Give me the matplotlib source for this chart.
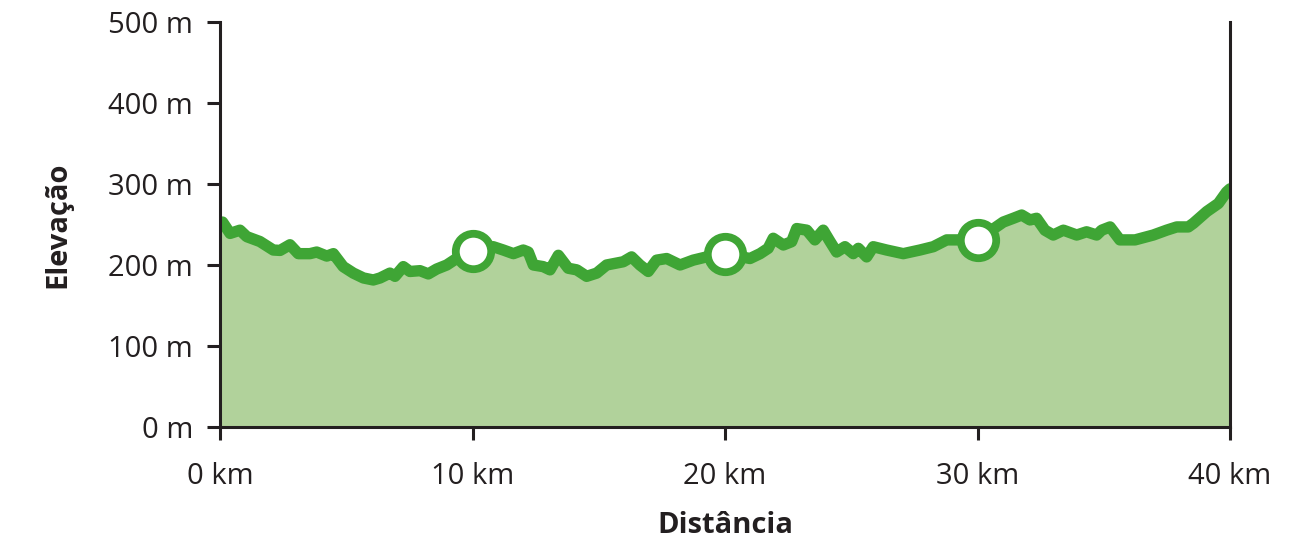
import numpy as np
import matplotlib
matplotlib.use('Agg')
import matplotlib.pyplot as plt

plt.rcParams['font.family'] = ['Open Sans', 'DejaVu Sans']

# perfil de elevação (km, m)
dist_km = [0.0, 0.1, 0.40, 0.79, 1.06, 1.58, 2.11, 2.38, 2.77, 3.10, 3.56, 3.83,
           4.23, 4.49, 4.88, 5.28, 5.68, 6.07, 6.34, 6.73, 6.93, 7.26, 7.52, 7.92,
           8.25, 8.58, 8.98, 9.37, 10.0, 10.82, 11.22, 11.62, 12.01, 12.21, 12.41,
           12.80, 13.07, 13.40, 13.79, 14.13, 14.52, 14.92, 15.31, 15.97, 16.30,
           16.63, 16.96, 17.29, 17.69, 18.22, 18.74, 19.27, 20.0, 20.99, 21.39,
           21.71, 21.91, 22.31, 22.64, 22.84, 23.24, 23.56, 23.89, 24.16, 24.42,
           24.75, 25.08, 25.28, 25.61, 25.87, 26.40, 27.06, 27.72, 28.25, 28.78,
           29.18, 30.0, 31.02, 31.42, 31.75, 32.08, 32.34, 32.67, 33.0, 33.40,
           33.93, 34.32, 34.72, 34.92, 35.25, 35.64, 36.24, 36.96, 37.49, 37.89,
           38.35, 38.55, 39.08, 39.54, 39.86, 40.0]
elev_m = [250, 253, 239, 243, 235, 229, 218.5, 218, 225, 214, 214, 216,
          211, 214, 198, 190, 184, 181.5, 184, 190, 186, 198, 192, 193,
          189, 195, 200, 208, 216, 222.6, 218.5, 214, 218.5, 216, 200,
          198, 194, 212, 196, 194, 186, 190, 200, 204, 210,
          200, 192, 206, 208, 200, 206, 210, 214, 208, 214,
          220.6, 233, 224.7, 228.8, 245, 243, 231, 243, 229, 216,
          222.6, 214, 220.6, 210, 222.6, 218.5, 214, 218.5, 222.6, 231,
          231, 231, 253, 257.7, 261.7, 255.6, 257.7, 243, 237, 243,
          237, 241, 237, 243, 247, 231, 231, 237, 243, 247,
          247, 251.5, 266, 276, 290, 294]

marker_km = [10, 20, 30]
marker_m = [217, 214, 231]

x_ticks = [0, 10, 20, 30, 40]
x_labels = ['0 km', '10 km', '20 km', '30 km', '40 km']
y_ticks = [0, 100, 200, 300, 400, 500]
y_labels = ['0 m', '100 m', '200 m', '300 m', '400 m', '500 m']

green = '#3fa535'
fill_green = '#b1d29b'
dark = '#231f20'

fig = plt.figure(figsize=(12.99, 5.39), dpi=100)
ax = fig.add_axes([220/1299, 112/539, 1010/1299, 405/539])

ax.fill_between(dist_km, elev_m, 0, color=fill_green, lw=0, zorder=1)
ax.plot(dist_km, elev_m, color=green, lw=8.2, solid_joinstyle='round',
        solid_capstyle='round', zorder=2)
ax.plot(marker_km, marker_m, 'o', ms=25.5, mfc='white', mec=green, mew=5.6,
        zorder=3)

ax.set_xlim(0, 40)
ax.set_ylim(0, 500)
ax.set_xticks(x_ticks)
ax.set_xticklabels(x_labels)
ax.set_yticks(y_ticks)
ax.set_yticklabels(y_labels)

for s in ['left', 'right', 'bottom']:
    ax.spines[s].set_linewidth(2.2)
    ax.spines[s].set_color(dark)
    ax.spines[s].set_zorder(5)
ax.spines['top'].set_visible(False)

ax.tick_params(axis='both', length=9.5, width=2.2, color=dark, labelcolor=dark,
               labelsize=21)
ax.tick_params(axis='x', pad=16)
ax.tick_params(axis='y', pad=10)

ax.set_xlabel('Distância', fontsize=21, fontweight='bold', color=dark, labelpad=14)
ax.set_ylabel('Elevação', fontsize=21, fontweight='bold', color=dark, labelpad=26)

fig.savefig('out.png', dpi=100)
